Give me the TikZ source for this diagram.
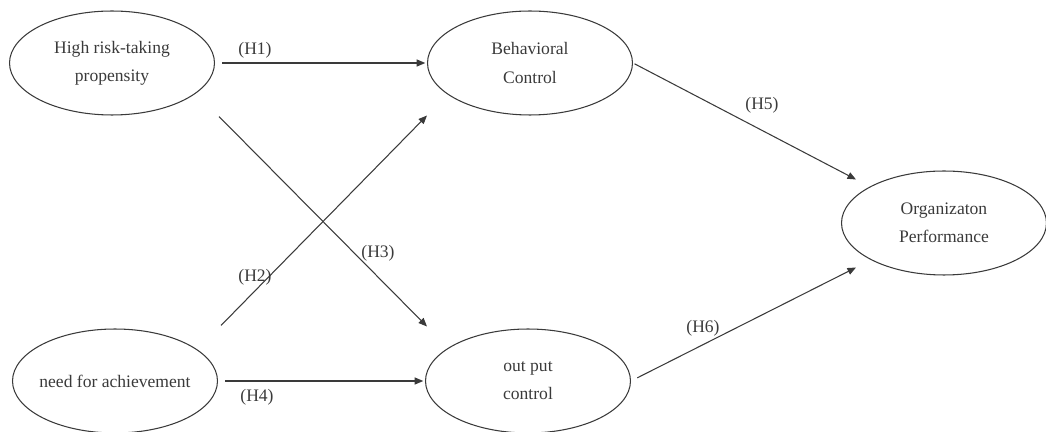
\documentclass[tikz,border=0pt]{standalone}
\usepackage{fontspec}
\setmainfont{Liberation Serif}
\usepackage{tikz}
\usetikzlibrary{calc,arrows.meta,shapes.geometric}
\definecolor{inkgray}{HTML}{3A3A3A}
\tikzset{el/.style={ellipse,draw=inkgray,line width=0.6pt,minimum width=4.1cm,minimum height=2.08cm,inner xsep=-8pt,inner ysep=0pt,align=center,font=\fontsize{10}{16}\selectfont,text=inkgray}}
\tikzset{hl/.style={font=\fontsize{10}{12}\selectfont,text=inkgray,inner sep=1pt}}
\tikzset{ar/.style={draw=inkgray,line width=0.6pt,-{Triangle[length=1.7mm,width=1.4mm]}}}

\begin{document}
\begin{tikzpicture}[x=0.02cm,y=-0.02cm]
\useasboundingbox (0,0) rectangle (1046,432);
\node[el] (risk) at (112,63) {High risk-taking\\propensity};
\node[el] (need) at (115,381) {need for achievement};
\node[el] (beh) at (530,63) {Behavioral\\Control};
\node[el] (out) at (528,381) {out put\\control};
\node[el] (perf) at (944,223) {Organizaton\\Performance};
\draw[ar,shorten <=4pt,shorten >=1pt] (risk) -- (beh);
\draw[ar,shorten <=4pt,shorten >=1pt] (need) -- (out);
\draw[ar] ($(need.east |- need.north)+(3,-3)$) -- (beh.west |- beh.south);
\draw[ar] ($(risk.east |- risk.south)+(4,1)$) -- ($(out.west |- out.north)+(2,-2)$);
\draw[ar,shorten <=1pt] (beh.east) -- ($(perf.west |- perf.north)+(15,9)$);
\draw[ar,shorten <=4pt] (out.east) -- ($(perf.west |- perf.south)+(15,-8)$);
\node[hl] (h1) at (255,50) {(H1)};
\node[hl] (h2) at (255,277) {(H2)};
\node[hl] (h3) at (378,253) {(H3)};
\node[hl] (h4) at (257,397) {(H4)};
\node[hl] (h5) at (762,105) {(H5)};
\node[hl] (h6) at (703,328) {(H6)};
\end{tikzpicture}
\end{document}
